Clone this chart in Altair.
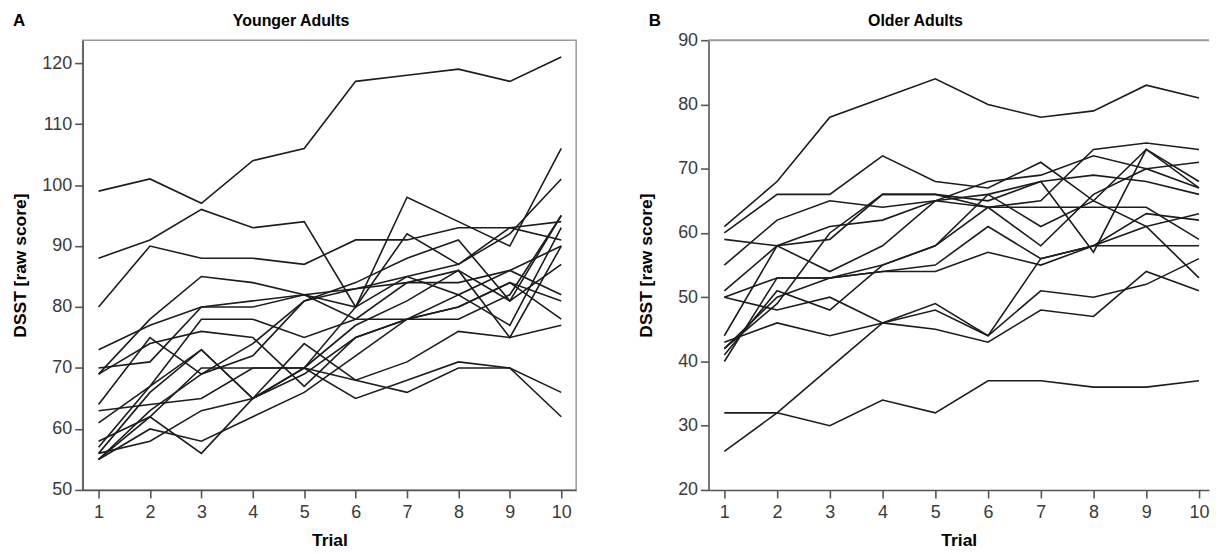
import altair as alt
import pandas as pd

trials = list(range(1, 11))

# Younger adults: DSST raw scores per subject, trials 1..10
young = [
    [99, 101, 97, 104, 106, 117, 118, 119, 117, 121],
    [88, 91, 96, 93, 94, 80, 98, 94, 90, 106],
    [80, 90, 88, 88, 87, 91, 91, 93, 93, 94],
    [73, 77, 80, 81, 82, 83, 85, 87, 93, 91],
    [70, 71, 80, 80, 82, 80, 92, 87, 92, 101],
    [69, 78, 85, 84, 82, 78, 78, 78, 82, 95],
    [69, 74, 76, 75, 67, 75, 78, 82, 77, 93],
    [64, 75, 69, 72, 81, 84, 88, 91, 81, 87],
    [63, 64, 65, 70, 70, 68, 66, 70, 70, 62],
    [61, 67, 73, 65, 74, 68, 71, 76, 75, 77],
    [58, 62, 70, 70, 70, 65, 68, 71, 70, 66],
    [57, 67, 78, 78, 75, 78, 84, 84, 86, 82],
    [56, 58, 63, 65, 70, 77, 81, 86, 75, 90],
    [55, 60, 58, 62, 66, 72, 78, 80, 84, 81],
    [55, 62, 56, 65, 69, 75, 78, 80, 84, 78],
    [55, 63, 69, 74, 81, 83, 84, 86, 81, 95],
    [56, 66, 73, 65, 70, 80, 85, 82, 86, 90],
]

# Older adults
older = [
    [61, 68, 78, 81, 84, 80, 78, 79, 83, 81],
    [60, 66, 66, 72, 68, 67, 71, 65, 73, 67],
    [59, 58, 54, 58, 65, 68, 69, 72, 70, 71],
    [55, 62, 65, 64, 65, 66, 68, 69, 68, 66],
    [51, 58, 61, 62, 65, 64, 65, 73, 74, 73],
    [50, 53, 53, 54, 54, 57, 55, 58, 58, 58],
    [44, 58, 59, 66, 66, 64, 64, 64, 64, 59],
    [43, 46, 44, 46, 48, 44, 51, 50, 52, 56],
    [42, 50, 53, 54, 55, 61, 56, 58, 63, 62],
    [41, 51, 48, 55, 58, 64, 58, 66, 70, 67],
    [40, 53, 53, 55, 58, 66, 61, 65, 61, 63],
    [50, 48, 50, 46, 45, 43, 48, 47, 54, 51],
    [32, 32, 30, 34, 32, 37, 37, 36, 36, 37],
    [26, 32, 39, 46, 49, 44, 56, 58, 61, 53],
    [42, 49, 60, 66, 66, 65, 68, 57, 73, 68],
]

young_ticks = [50, 60, 70, 80, 90, 100, 110, 120]
older_ticks = [20, 30, 40, 50, 60, 70, 80, 90]

FONT = "Liberation Sans"


def to_long(series):
    rows = []
    for i, s in enumerate(series):
        for t, v in zip(trials, s):
            rows.append({"subject": i, "trial": t, "score": v})
    return pd.DataFrame(rows)


def axis_common(**kw):
    return alt.Axis(
        grid=False,
        labelFont=FONT, labelFontSize=18, labelColor="#3a3a3a",
        titleFont=FONT, titleFontSize=17.5, titleFontWeight="bold", titleColor="#000000",
        domainColor="#555555", domainWidth=1.6,
        tickColor="#555555", tickWidth=1.6, tickSize=8,
        labelFlush=False,
        **kw,
    )


def panel(series, yticks, ydom, xdom, w, h, title, letter, ytitle_pad, letter_x, title_x, stroke_view):
    df = to_long(series)
    lines = alt.Chart(df).mark_line(color="#1c1c1c", strokeWidth=1.6, clip=True).encode(
        x=alt.X("trial:Q",
                scale=alt.Scale(domain=xdom, nice=False, zero=False),
                axis=axis_common(values=trials, title="Trial", labelPadding=6, titlePadding=10)),
        y=alt.Y("score:Q",
                scale=alt.Scale(domain=ydom, nice=False, zero=False),
                axis=axis_common(values=yticks, title="DSST [raw score]", labelPadding=3,
                                 titlePadding=ytitle_pad)),
        detail="subject:N",
    )
    lab = alt.Chart(pd.DataFrame({"t": [letter]})).mark_text(
        font=FONT, fontSize=17, fontWeight="bold", color="#000000",
        align="left", baseline="alphabetic",
    ).encode(text="t:N", x=alt.value(letter_x), y=alt.value(-14))
    ttl = alt.Chart(pd.DataFrame({"t": [title]})).mark_text(
        font=FONT, fontSize=16, fontWeight="bold", color="#000000",
        align="center", baseline="alphabetic",
    ).encode(text="t:N", x=alt.value(title_x), y=alt.value(-14.5))
    layers = [lines, lab, ttl]
    if not stroke_view:
        top = alt.Chart(pd.DataFrame({"v": [ydom[1]]})).mark_rule(
            color="#9a9a9a", strokeWidth=2).encode(y=alt.Y("v:Q"))
        layers = [top] + layers
    ch = alt.layer(*layers).properties(width=w, height=h)
    if stroke_view:
        ch = ch.properties(view=alt.ViewBackground(stroke="#9a9a9a", strokeWidth=1.5))
    else:
        ch = ch.properties(view=alt.ViewBackground(stroke="transparent"))
    return ch


A = panel(young, young_ticks, [50, 123.75], [0.69, 10.29], 496, 452,
          "Younger Adults", "A", 12, -70, 209.5, True)
B = panel(older, older_ticks, [20, 90], [0.7, 10.19], 503, 452,
          "Older Adults", "B", 22, -60, 208, False)

chart = alt.hconcat(A, B, spacing=60).resolve_scale(x="independent", y="independent").properties(
    padding={"left": 3, "top": 2, "right": 0, "bottom": 0}
).configure(background="white")

chart.save("out.html", embed_options={"renderer": "svg", "actions": False})
